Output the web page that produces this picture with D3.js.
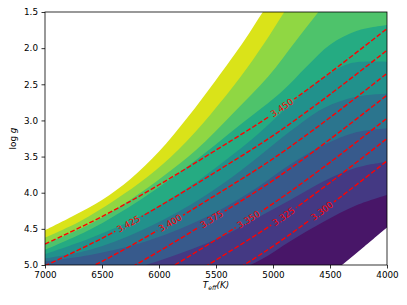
<!DOCTYPE html>
<html>
<head>
<meta charset="utf-8">
<script src="https://cdn.jsdelivr.net/npm/d3@7"></script>
<style>
  html, body { margin: 0; padding: 0; background: #fff; }
  svg { display: block; font-family: "DejaVu Sans", sans-serif; }
</style>
</head>
<body>
<div id="chart"></div>
<script>
// ---------------------------------------------------------------------------
// Teff / log g map: filled bands (viridis) + dashed red contours with labels
// ---------------------------------------------------------------------------

const teffTicks = [7000, 6500, 6000, 5500, 5000, 4500, 4000];
const loggTicks = [1.5, 2.0, 2.5, 3.0, 3.5, 4.0, 4.5, 5.0];

// band edges as [Teff, logg] (points past the frame get clipped)
const maskTop = [[7000, 4.52], [6750, 4.32], [6500, 4.10], [6250, 3.81], [6000, 3.43], [5750, 2.96], [5500, 2.44], [5250, 1.89], [5089, 1.50], [4995, 1.29], [4000, -0.50]];
const edge1 = [[7000, 4.62], [6700, 4.40], [6386, 4.10], [6100, 3.78], [5833, 3.41], [5550, 2.92], [5281, 2.39], [5080, 1.94], [4901, 1.50], [4700, 1.00], [4000, -0.50]];
const edge2 = [[7000, 4.71], [6600, 4.43], [6254, 4.10], [5960, 3.77], [5675, 3.41], [5350, 2.90], [5040, 2.39], [4800, 1.90], [4602, 1.50], [4400, 1.10], [4000, 0.30]];
const edge3 = [[7000, 4.79], [6605, 4.51], [6166, 4.10], [5727, 3.61], [5288, 3.06], [4922, 2.60], [4702, 2.25], [4497, 1.95], [4263, 1.76], [4000, 1.68]];
const edge4 = [[7000, 4.85], [6605, 4.63], [6166, 4.33], [5727, 3.91], [5434, 3.57], [5141, 3.20], [4849, 2.78], [4556, 2.41], [4322, 2.21], [4000, 2.19]];
const edge5 = [[7000, 4.91], [6605, 4.79], [6166, 4.53], [5727, 4.17], [5434, 3.87], [5141, 3.52], [4849, 3.15], [4556, 2.83], [4263, 2.67], [4000, 2.63]];
const edge6 = [[7000, 4.95], [6605, 4.86], [6166, 4.70], [5727, 4.44], [5434, 4.21], [5141, 3.93], [4849, 3.61], [4556, 3.34], [4263, 3.16], [4000, 3.11]];
const edge7 = [[7000, 5.30], [6312, 5.09], [6019, 4.95], [5727, 4.79], [5434, 4.60], [5141, 4.35], [4849, 4.10], [4556, 3.84], [4263, 3.65], [4000, 3.57]];
const edge8 = [[7000, 5.90], [5405, 5.13], [5112, 4.93], [4849, 4.67], [4556, 4.40], [4263, 4.17], [4000, 4.03]];
const maskBottom = [[7000, 7.00], [4585, 5.25], [4395, 5.00], [4196, 4.74], [4000, 4.48]];

// dashed contour lines
const lineLevels = ['3.450', '3.425', '3.400', '3.375', '3.350', '3.325', '3.300'];
const lineTeff = [7000, 6500, 6000, 5500, 5000, 4500, 4000];
const line3450 = [4.71, 4.33, 3.89, 3.41, 2.91, 2.34, 1.73];
const line3425 = [5.01, 4.63, 4.19, 3.71, 3.21, 2.64, 2.03];
const line3400 = [5.33, 4.95, 4.51, 4.03, 3.53, 2.96, 2.35];
const line3375 = [5.63, 5.25, 4.81, 4.33, 3.83, 3.26, 2.65];
const line3350 = [5.95, 5.57, 5.13, 4.65, 4.15, 3.58, 2.97];
const line3325 = [6.23, 5.85, 5.41, 4.93, 4.43, 3.86, 3.25];
const line3300 = [6.54, 6.16, 5.72, 5.24, 4.74, 4.17, 3.56];
const labelTeff = [4922, 6268, 5902, 5537, 5215, 4907, 4571];

const W = 407, H = 305;
const plot = { left: 45, right: 387, top: 12, bottom: 265 };

const x = d3.scaleLinear().domain([7000, 4000]).range([plot.left, plot.right]);
const y = d3.scaleLinear().domain([1.5, 5.0]).range([plot.top, plot.bottom]);

const svg = d3.select('#chart').append('svg')
  .attr('width', W).attr('height', H);

const defs = svg.append('defs');
defs.append('clipPath').attr('id', 'frame')
  .append('rect')
  .attr('x', plot.left).attr('y', plot.top)
  .attr('width', plot.right - plot.left).attr('height', plot.bottom - plot.top);

// --- filled bands -----------------------------------------------------------
const nBands = 9;
const bandColor = (i) => d3.interpolateViridis((i + 0.5) / nBands);
const smooth = d3.curveCatmullRom.alpha(0.5);

const field = svg.append('g').attr('clip-path', 'url(#frame)');

field.append('rect')
  .attr('x', plot.left).attr('y', plot.top)
  .attr('width', plot.right - plot.left).attr('height', plot.bottom - plot.top)
  .attr('fill', bandColor(0));

const above = d3.area()
  .curve(smooth)
  .x((d) => x(d[0]))
  .y0((d) => y(d[1]))
  .y1(0);

const below = d3.area()
  .curve(smooth)
  .x((d) => x(d[0]))
  .y0((d) => y(d[1]))
  .y1(H);

const edges = [edge8, edge7, edge6, edge5, edge4, edge3, edge2, edge1];
edges.forEach((e, i) => {
  field.append('path').attr('d', above(e)).attr('fill', bandColor(i + 1));
});

field.append('path').attr('d', above(maskTop)).attr('fill', '#fff');
field.append('path').attr('d', below(maskBottom)).attr('fill', '#fff');

// --- dashed contours + inline labels ----------------------------------------
const lines = [line3450, line3425, line3400, line3375, line3350, line3325, line3300];

const mask = defs.append('mask').attr('id', 'gaps')
  .attr('maskUnits', 'userSpaceOnUse')
  .attr('x', 0).attr('y', 0).attr('width', W).attr('height', H);
mask.append('rect').attr('width', W).attr('height', H).attr('fill', '#fff');

const lineGen = d3.line()
  .curve(smooth)
  .x((d) => x(d[0]))
  .y((d) => y(d[1]));

const contourG = svg.append('g').attr('clip-path', 'url(#frame)');
const lineG = contourG.append('g').attr('mask', 'url(#gaps)');
const labelG = contourG.append('g');

const lenAtX = (node, tx) => {
  let lo = 0, hi = node.getTotalLength();
  for (let k = 0; k < 40; k++) {
    const mid = (lo + hi) / 2;
    if (node.getPointAtLength(mid).x < tx) lo = mid; else hi = mid;
  }
  return (lo + hi) / 2;
};

lines.forEach((vals, i) => {
  const pts = lineTeff.map((t, j) => [t, vals[j]]);
  const path = lineG.append('path')
    .attr('d', lineGen(pts))
    .attr('fill', 'none')
    .attr('stroke', 'red')
    .attr('stroke-width', 1.4)
    .attr('stroke-dasharray', '4.9,2.1');

  const node = path.node();
  const l = lenAtX(node, x(labelTeff[i]));
  const p = node.getPointAtLength(l);
  const a = node.getPointAtLength(l - 3);
  const b = node.getPointAtLength(l + 3);
  const ang = Math.atan2(b.y - a.y, b.x - a.x) * 180 / Math.PI;

  const txt = labelG.append('text')
    .attr('transform', `translate(${p.x},${p.y}) rotate(${ang})`)
    .attr('text-anchor', 'middle')
    .attr('dy', '0.35em')
    .attr('fill', 'red')
    .style('font-size', '8.8px')
    .text(lineLevels[i]);

  const tw = txt.node().getComputedTextLength() + 5;
  mask.append('rect')
    .attr('x', -tw / 2).attr('y', -5)
    .attr('width', tw).attr('height', 10)
    .attr('transform', `translate(${p.x},${p.y}) rotate(${ang})`)
    .attr('fill', '#000');
});

// --- axes -------------------------------------------------------------------
const yAxis = svg.append('g')
  .attr('transform', `translate(${plot.left},0)`)
  .call(d3.axisLeft(y).tickValues(loggTicks).tickFormat(d3.format('.1f')).tickSize(3.5).tickPadding(3.5));

const xAxis = svg.append('g')
  .attr('transform', `translate(0,${plot.bottom})`)
  .call(d3.axisBottom(x).tickValues(teffTicks).tickFormat(d3.format('d')).tickSize(3.5).tickPadding(3.5));

[xAxis, yAxis].forEach((g) => {
  g.select('.domain').remove();
  g.selectAll('text')
    .style('font-family', '"DejaVu Sans", sans-serif')
    .style('font-size', '8.8px')
    .attr('fill', '#000');
  g.selectAll('line').attr('stroke', '#000').attr('stroke-width', 0.8);
});

svg.append('rect')
  .attr('x', plot.left).attr('y', plot.top)
  .attr('width', plot.right - plot.left).attr('height', plot.bottom - plot.top)
  .attr('fill', 'none')
  .attr('stroke', '#000')
  .attr('stroke-width', 0.8);

// axis titles
const xl = svg.append('text')
  .attr('x', (plot.left + plot.right) / 2)
  .attr('y', 288)
  .attr('text-anchor', 'middle')
  .style('font-size', '8.8px')
  .style('font-style', 'italic');
xl.append('tspan').text('T');
xl.append('tspan').attr('dy', 2).style('font-size', '6.2px').text('eff');
xl.append('tspan').attr('dy', -2).text('(K)');

const yl = svg.append('text')
  .attr('transform', `translate(16,${(plot.top + plot.bottom) / 2}) rotate(-90)`)
  .attr('text-anchor', 'middle')
  .style('font-size', '8.8px');
yl.append('tspan').text('log ');
yl.append('tspan').style('font-style', 'italic').text('g');
</script>
</body>
</html>
